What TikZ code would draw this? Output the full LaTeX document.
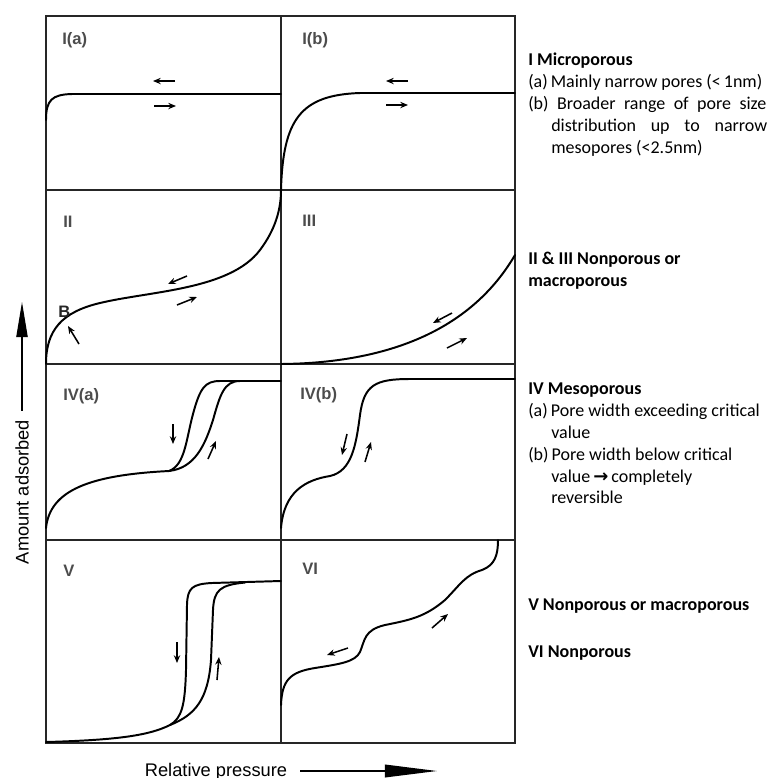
\documentclass[tikz,border=0pt]{standalone}
\usepackage{fontspec}
\setmainfont{Carlito}
\newfontfamily\labfont{Liberation Sans}
\newfontfamily\symfont{DejaVu Sans}
\usetikzlibrary{arrows.meta}
\tikzset{
  frame/.style={line width=1.5pt, black!85},
  iso/.style={line width=1.4pt, line cap=round},
  flow/.style={line width=1.1pt, -{Stealth[length=5.5pt,width=4.5pt]}},
  plab/.style={anchor=base west, inner sep=0pt, text=black!70,
    font=\labfont\bfseries\fontsize{11.8}{14}\selectfont},
  axlab/.style={inner sep=0pt, font=\labfont\fontsize{13}{15}\selectfont},
  desc/.style={anchor=base west, inner sep=0pt, font=\fontsize{12.8}{15.6}\selectfont},
  desctitle/.style={desc, font=\bfseries\fontsize{12.8}{15.6}\selectfont},
}
\begin{document}
\begin{tikzpicture}[x=0.025cm, y=-0.025cm]
\useasboundingbox (0,0) rectangle (776,778);
% panels
\draw[frame] (46,16) rectangle (515,743);
\draw[frame] (281,16) -- (281,743);
\foreach \y in {190,364,540} {
\draw[frame] (46,\y) -- (515,\y);
}
% panel labels
\node[plab] (lIa) at (62,44) {I(a)};
\node[plab] (lIb) at (302,44) {I(b)};
\node[plab] (lII) at (63,227) {II};
\node[plab] (lIII) at (302,226) {III};
\node[plab] (lIVa) at (63,400) {IV(a)};
\node[plab] (lIVb) at (300,399) {IV(b)};
\node[plab] (lV) at (63,576) {V};
\node[plab] (lVI) at (302,574) {VI};
% I(a)
\draw[iso] (46,120) .. controls (46,100) and (52,94.5) .. (72,94) -- (281,94);
\draw[flow] (175,81) -- (153,81);
\draw[flow] (154,106) -- (176,106);
% I(b)
\draw[iso] (281,190) .. controls (283,120) and (300,95) .. (360,93) -- (515,93);
\draw[flow] (408,81) -- (386,81);
\draw[flow] (386,105) -- (408,105);
% II
\draw[iso] (46,364) .. controls (46,330) and (62,312) .. (100,303)
  .. controls (150,291) and (230,290) .. (260,250)
  .. controls (275,230) and (281,210) .. (281,190);
\node[plab, text=black!85] (lB) at (58,317) {B};
\draw[flow] (79,344) -- (68,326);
\draw[flow] (187,276) -- (168,284);
\draw[flow] (177,305) -- (197,297);
% III
\draw[iso] (281,364) .. controls (385,363) and (470,332) .. (515,255);
\draw[flow] (452,313) -- (433,323);
\draw[flow] (447,348) -- (467,338);
% IV(a)
\draw[iso] (46,528) .. controls (50,490) and (90,475) .. (169,471);
\draw[iso] (169,471) .. controls (185,465) and (186,440) .. (193,414)
  .. controls (200,388) and (205,381) .. (220,381) -- (281,381);
\draw[iso] (169,471) .. controls (195,468) and (205,445) .. (213,420)
  .. controls (220,395) and (224,381) .. (240,381);
\draw[flow] (173,424) -- (173,444);
\draw[flow] (208,459) -- (216,441);
% IV(b)
\draw[iso] (281,528) .. controls (284,492) and (305,480) .. (330,476)
  .. controls (352,471) and (356,445) .. (360,415)
  .. controls (364,385) and (375,379) .. (410,379) -- (515,379);
\draw[flow] (347,434) -- (342,455);
\draw[flow] (365,462) -- (371,442);
% V
\draw[iso] (46,742) .. controls (120,740) and (150,735) .. (170,725);
\draw[iso] (170,725) .. controls (182,718) and (185,705) .. (186,670) -- (187,605)
  .. controls (187.5,588) and (192,584) .. (212,583) -- (281,581);
\draw[iso] (170,725) .. controls (195,715) and (208,700) .. (211,660) -- (213,610)
  .. controls (214,590) and (220,585) .. (245,582.5);
\draw[flow] (177,642) -- (177,663);
\draw[flow] (217,680) -- (219,657);
% VI
\draw[iso] (281,705) .. controls (282,680) and (290,672) .. (315,668)
  .. controls (340,664) and (355,662) .. (360,652)
  .. controls (365,640) and (364,630) .. (385,625)
  .. controls (410,620) and (425,617) .. (445,600)
  .. controls (460,585) and (465,575) .. (482,570)
  .. controls (495,565) and (498,555) .. (498,540);
\draw[flow] (348,648) -- (327,655);
\draw[flow] (432,628) -- (448,614);
% axes
\node[axlab, rotate=90] (ylab) at (22,492) {Amount adsorbed};
\coordinate (ytip) at (22,302);
\draw[line width=1pt, -{Triangle[length=25pt,width=8pt]}] (ylab.east) ++(0,-9) -- (ytip);
\node[axlab, anchor=base] (xlab) at (216,776) {Relative pressure};
\coordinate (xtip) at (437,771);
\draw[line width=1pt, -{Triangle[length=37pt,width=9pt]}] (300,771) -- (xtip);
% descriptions
\node[desctitle] (t1) at (528,65.5) {I Microporous};
\node[desc] (t1a) at (528,87.5) {(a)\,Mainly narrow pores (<\,1nm)};
\node[desc] (t1b) at (528,109.5) {\makebox[5.95cm][s]{(b) Broader range of pore size}};
\node[desc] (t1c) at (551,131.5) {\makebox[5.4cm][s]{distribution up to narrow}};
\node[desc] (t1d) at (551,153.5) {mesopores (<2.5nm)};
\node[desctitle] (t2) at (528,264.5) {II \& III Nonporous or};
\node[desctitle] (t2b) at (528,286.5) {macroporous};
\node[desctitle] (t4) at (528,394) {IV Mesoporous};
\node[desc] (t4a) at (528,416.5) {(a)\,Pore width exceeding critical};
\node[desc] (t4b) at (551,438) {value};
\node[desc] (t4c) at (528,460) {(b)\,Pore width below critical};
\node[desc] (t4d) at (551,482) {value\,{\symfont\bfseries →}\,completely};
\node[desc] (t4e) at (551,503.5) {reversible};
\node[desctitle] (t5) at (528,610) {V Nonporous or macroporous};
\node[desctitle] (t6) at (528,657) {VI Nonporous};
\end{tikzpicture}
\end{document}
